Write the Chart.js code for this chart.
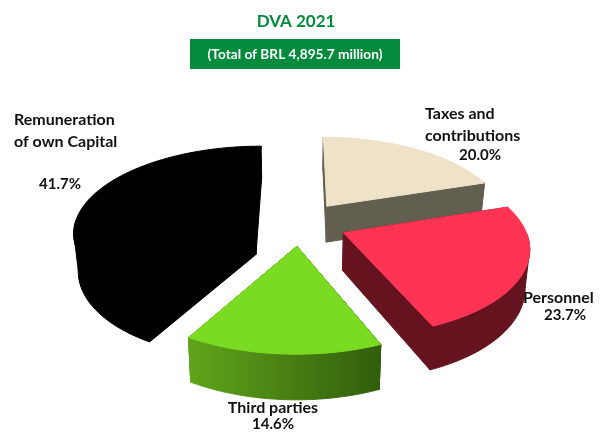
<!DOCTYPE html>
<html>
<head>
<meta charset="utf-8">
<title>DVA 2021</title>
<script src="https://cdn.jsdelivr.net/npm/chart.js@4"></script>
<style>
    html, body { margin: 0; padding: 0; background: #fff; }
    #wrap { width: 602px; height: 433px; }
</style>
</head>
<body>
<div id="wrap"><canvas id="dvaChart" width="602" height="433"></canvas></div>
<script>
// values in percent, clockwise from twelve o'clock
var categories = [['Taxes and', 'contributions'], ['Personnel'], ['Third parties'], ['Remuneration', 'of own Capital']];
var shares = [20.0, 23.7, 14.6, 41.7];

var titleText = 'DVA 2021';
var subtitleText = '(Total of BRL 4,895.7 million)';

var topColors = ['#eee2c8', '#ff3353', '#7bdb22', '#000000'];
var wallColors = [['#625e50', '#625e50'], ['#65131f', '#65131f'], ['#5fa51b', '#325d0b'], ['#000000', '#000000']];

var green = '#048a3d';
var nameFont = 'bold 16px Lato, "Open Sans", sans-serif';
var valueFont = 'bold 15px Lato, "Open Sans", sans-serif';

// where each label block goes: x, y of first line, value line, alignment
var labelSpots = [
    {x: 425, y: 114, valueX: 480, valueY: 155, align: 'left'},
    {x: 523, y: 298, valueX: 565, valueY: 315, align: 'left'},
    {x: 273, y: 408, valueX: 273, valueY: 424, align: 'center'},
    {x: 14, y: 120, valueX: 60, valueY: 184, align: 'left'}
];

// tilted view of the pie
var tilt = 0.467;
var perspective = 0.15;
var wallHeight = 37;
var wallShrink = 0.98;

function project(arc, u, v, lowered) {
    var d = 1 - perspective * v;
    var x = arc.x + arc.outerRadius * u / d;
    var y = arc.y + arc.outerRadius * tilt * v / d;
    if (lowered) {
        x = arc.x + (x - arc.x) * wallShrink;
        y += wallHeight / d;
    }
    return {x: x, y: y};
}

// edge of a slice in screen space, rim points from start to end angle
// frontOnly keeps just the part of the rim that faces the viewer
function rimPoints(arc, lowered, frontOnly) {
    var mid = (arc.startAngle + arc.endAngle) / 2;
    var shift = arc.options.offset / arc.outerRadius;
    var ox = shift * Math.cos(mid), oy = shift * Math.sin(mid);
    var pts = [];
    var steps = 72;
    for (var i = 0; i <= steps; i++) {
        var a = arc.startAngle + (arc.endAngle - arc.startAngle) * i / steps;
        if (frontOnly && Math.sin(a) < 0) continue;
        pts.push(project(arc, ox + Math.cos(a), oy + Math.sin(a), lowered));
    }
    return {pts: pts, apex: project(arc, ox, oy, lowered)};
}

// point of a rim furthest to one side, side is -1 for left and 1 for right
function sidePoint(pts, side) {
    return pts.reduce(function (best, p) {
        return (p.x - best.x) * side > 0 ? p : best;
    });
}

function fillShape(ctx, pts, color) {
    ctx.beginPath();
    pts.forEach(function (p, i) {
        if (i === 0) ctx.moveTo(p.x, p.y); else ctx.lineTo(p.x, p.y);
    });
    ctx.closePath();
    ctx.fillStyle = color;
    ctx.strokeStyle = color;
    ctx.lineWidth = 1;
    ctx.lineJoin = 'round';
    ctx.fill();
    ctx.stroke();
}

var pie3d = {
    id: 'pie3d',
    beforeDatasetDraw: function (chart, args) {
        var ctx = chart.ctx;
        var arcs = args.meta.data.map(function (arc, i) { return {arc: arc, index: i}; });
        // far slices first
        arcs.sort(function (a, b) {
            return Math.sin((a.arc.startAngle + a.arc.endAngle) / 2) - Math.sin((b.arc.startAngle + b.arc.endAngle) / 2);
        });
        arcs.forEach(function (item) {
            var arc = item.arc;
            var up = rimPoints(arc, false, false);
            var down = rimPoints(arc, true, false);
            var bandUp = rimPoints(arc, false, true).pts;
            var bandDown = rimPoints(arc, true, true).pts;
            var first = up.pts[0], last = up.pts[up.pts.length - 1];
            var xs = up.pts.map(function (p) { return p.x; });
            var grad = ctx.createLinearGradient(Math.min.apply(null, xs), 0, Math.max.apply(null, xs), 0);
            grad.addColorStop(0, wallColors[item.index][0]);
            grad.addColorStop(1, wallColors[item.index][1]);

            // walls: both cut faces, then the curved band
            fillShape(ctx, [up.apex, first, down.pts[0], down.apex], grad);
            fillShape(ctx, [up.apex, last, down.pts[down.pts.length - 1], down.apex], grad);
            if (bandUp.length > 1) {
                fillShape(ctx, bandUp.concat(bandDown.slice().reverse()), grad);
            }
            // close the outline between top and bottom rim at both sides
            [-1, 1].forEach(function (side) {
                fillShape(ctx, [sidePoint(up.pts, side), sidePoint(down.pts, side), up.apex], grad);
            });
            // top face
            fillShape(ctx, [up.apex].concat(up.pts), topColors[item.index]);
        });
        return false;
    },
    afterDraw: function (chart) {
        var ctx = chart.ctx;
        ctx.save();
        ctx.textBaseline = 'middle';

        ctx.fillStyle = green;
        ctx.fillRect(190, 39, 210, 30);
        ctx.textAlign = 'center';
        ctx.font = 'bold 17px Lato, "Open Sans", sans-serif';
        ctx.fillText(titleText, 296, 22);
        ctx.fillStyle = '#fff';
        ctx.font = 'bold 13.7px Lato, "Open Sans", sans-serif';
        ctx.fillText(subtitleText, 295, 55);

        ctx.fillStyle = '#111';
        categories.forEach(function (lines, i) {
            var spot = labelSpots[i];
            ctx.font = nameFont;
            ctx.textAlign = spot.align;
            lines.forEach(function (line, n) {
                ctx.fillText(line, spot.x, spot.y + n * 22);
            });
            ctx.font = valueFont;
            ctx.textAlign = 'center';
            ctx.fillText(shares[i].toFixed(1) + '%', spot.valueX, spot.valueY);
        });
        ctx.restore();
    }
};

var ctx = document.getElementById('dvaChart').getContext('2d');
var chart = new Chart(ctx, {
    type: 'pie',
    data: {
        labels: categories,
        datasets: [{
            data: shares,
            backgroundColor: topColors,
            borderWidth: 0,
            offset: 47
        }]
    },
    options: {
        responsive: false,
        animation: false,
        radius: 180,
        layout: {padding: {top: 14, right: 2}},
        plugins: {
            legend: {display: false},
            tooltip: {enabled: false}
        }
    },
    plugins: [pie3d]
});
</script>
</body>
</html>
